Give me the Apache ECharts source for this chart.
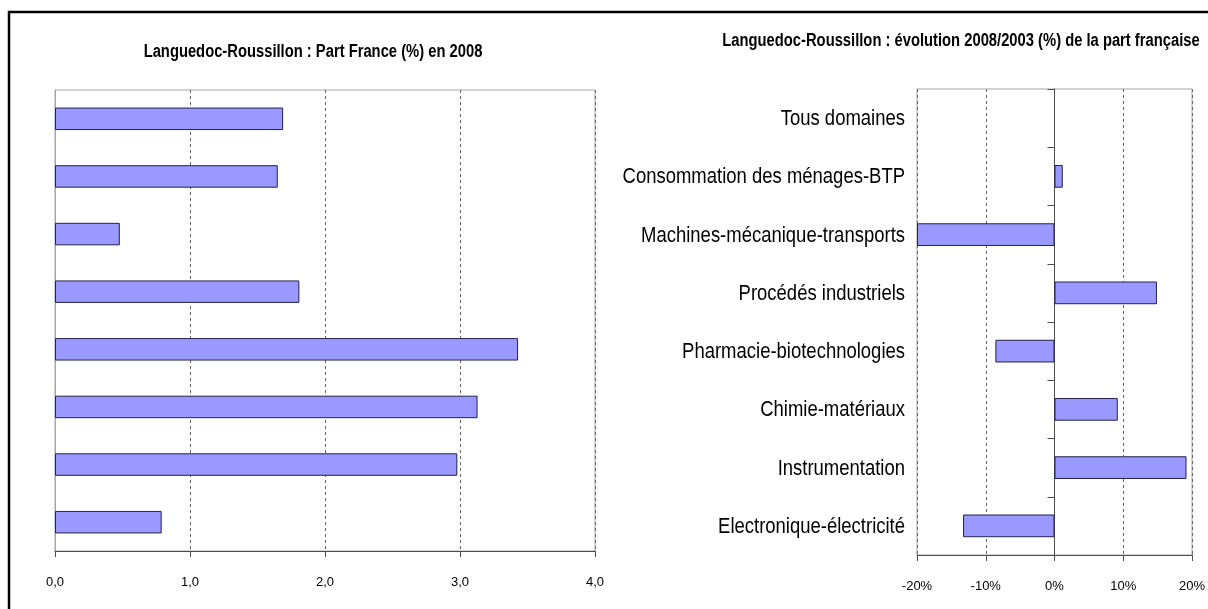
<!DOCTYPE html>
<html>
<head>
<meta charset="utf-8">
<title>Languedoc-Roussillon</title>
<script src="https://cdn.jsdelivr.net/npm/echarts@6/dist/echarts.min.js"></script>
<style>
  html, body { margin: 0; padding: 0; background: #fff; }
  #chart { width: 1208px; height: 609px; }
</style>
</head>
<body>
<div id="chart"></div>
<script>
// Technological domains, top to bottom
const domains = [
  'Tous domaines',
  'Consommation des ménages-BTP',
  'Machines-mécanique-transports',
  'Procédés industriels',
  'Pharmacie-biotechnologies',
  'Chimie-matériaux',
  'Instrumentation',
  'Electronique-électricité'
];

// Share of France (%) in 2008
const shareFrance2008 = [1.69, 1.65, 0.48, 1.81, 3.43, 3.13, 2.98, 0.79];

// Change 2008/2003 (%) of the French share
const change2008vs2003 = [null, 1.2, -20, 14.9, -8.6, 9.2, 19.2, -13.3];

const leftTitle = 'Languedoc-Roussillon : Part France (%) en 2008';
const rightTitle = 'Languedoc-Roussillon : évolution 2008/2003 (%) de la part française';

const FONT = '"Liberation Sans", Arial, sans-serif';
const BAR_FILL = '#9999ff';
const BAR_EDGE = '#22224a';
const FRAME_GRAY = '#a6a6a6';
const AXIS_DARK = '#4d4d4d';

const chart = echarts.init(document.getElementById('chart'), null, { renderer: 'canvas' });

const tickLabel = { color: '#000', fontFamily: FONT, fontSize: 13, margin: 25 };
const dashed = { show: true, lineStyle: { color: '#666', type: [3, 3], width: 1 } };

// Text squeezed horizontally to give a narrow face
function narrowText(id, text, x, y, align, size, weight, squeeze) {
  return {
    id: id, type: 'text', x: x, y: y, scaleX: squeeze, silent: true,
    style: {
      x: 0, y: 0, text: text, align: align, verticalAlign: 'middle',
      fontFamily: FONT, fontSize: size, fontWeight: weight, fill: '#000'
    }
  };
}

chart.setOption({
  animation: false,
  backgroundColor: '#fff',
  textStyle: { fontFamily: FONT },
  grid: [
    { left: 55, top: 90, width: 540, height: 461, show: true, borderColor: FRAME_GRAY, borderWidth: 1, outerBoundsMode: 'none', containLabel: false },
    { left: 917, top: 89, width: 275, height: 466, show: true, borderColor: FRAME_GRAY, borderWidth: 1, outerBoundsMode: 'none', containLabel: false },
    { left: 917, top: 89, width: 275, height: 466, show: false, outerBoundsMode: 'none', containLabel: false }
  ],
  xAxis: [
    {
      gridIndex: 0, type: 'value', min: 0, max: 4, interval: 1,
      axisLine: { show: true, onZero: false, lineStyle: { color: AXIS_DARK, width: 1 } },
      axisTick: { show: true, length: 6, lineStyle: { color: AXIS_DARK } },
      axisLabel: Object.assign({}, tickLabel, {
        formatter: v => v.toFixed(1).replace('.', ',')
      }),
      splitLine: dashed
    },
    {
      gridIndex: 1, type: 'value', min: -20, max: 20, interval: 10,
      axisLine: { show: true, onZero: false, lineStyle: { color: AXIS_DARK, width: 1 } },
      axisTick: { show: true, length: 6, lineStyle: { color: AXIS_DARK } },
      axisLabel: Object.assign({}, tickLabel, { formatter: '{value}%' }),
      splitLine: dashed
    },
    {
      gridIndex: 2, type: 'value', min: -20, max: 20, interval: 10, show: false
    }
  ],
  yAxis: [
    {
      gridIndex: 0, type: 'category', data: domains, inverse: true,
      axisLine: { show: true, lineStyle: { color: FRAME_GRAY } },
      axisTick: { show: false },
      axisLabel: { show: false },
      splitLine: { show: false }
    },
    {
      // category names are written as narrow text next to this axis
      gridIndex: 1, type: 'category', data: domains, inverse: true,
      axisLine: { show: false },
      axisTick: { show: false },
      axisLabel: { show: false },
      splitLine: { show: false }
    },
    {
      // zero line of the change chart, with category separators
      gridIndex: 2, type: 'category', data: domains, inverse: true,
      axisLine: { show: true, onZero: true, lineStyle: { color: AXIS_DARK, width: 1 } },
      axisTick: { show: true, length: 7, lineStyle: { color: AXIS_DARK } },
      axisLabel: { show: false },
      splitLine: { show: false }
    }
  ],
  series: [
    {
      type: 'bar', xAxisIndex: 0, yAxisIndex: 0, data: shareFrance2008,
      barWidth: '39%',
      itemStyle: { color: BAR_FILL, borderColor: BAR_EDGE, borderWidth: 1 }
    },
    {
      type: 'bar', xAxisIndex: 1, yAxisIndex: 1, data: change2008vs2003,
      barWidth: '39%',
      itemStyle: { color: BAR_FILL, borderColor: BAR_EDGE, borderWidth: 1 }
    }
  ]
});

// Titles, category names (placed on the category axis) and the outer frame
const graphics = [
  narrowText('title-left', leftTitle, 313, 52, 'center', 18, 'bold', 0.82),
  narrowText('title-right', rightTitle, 961, 41, 'center', 18, 'bold', 0.82)
];
const labelRight = chart.convertToPixel({ gridIndex: 1 }, [-20, domains[0]])[0] - 12;
domains.forEach(function (name, i) {
  const y = chart.convertToPixel({ yAxisIndex: 1 }, name) + 1;
  graphics.push(narrowText('cat-' + i, name, labelRight, y, 'right', 22, 'normal', 0.84));
});
graphics.push({
  id: 'frame', type: 'rect', z: 100, silent: true,
  shape: { x: 9, y: 12, width: 1300, height: 700 },
  style: { fill: 'none', stroke: '#000', lineWidth: 2.5 }
});
chart.setOption({ graphic: graphics });
</script>
</body>
</html>
